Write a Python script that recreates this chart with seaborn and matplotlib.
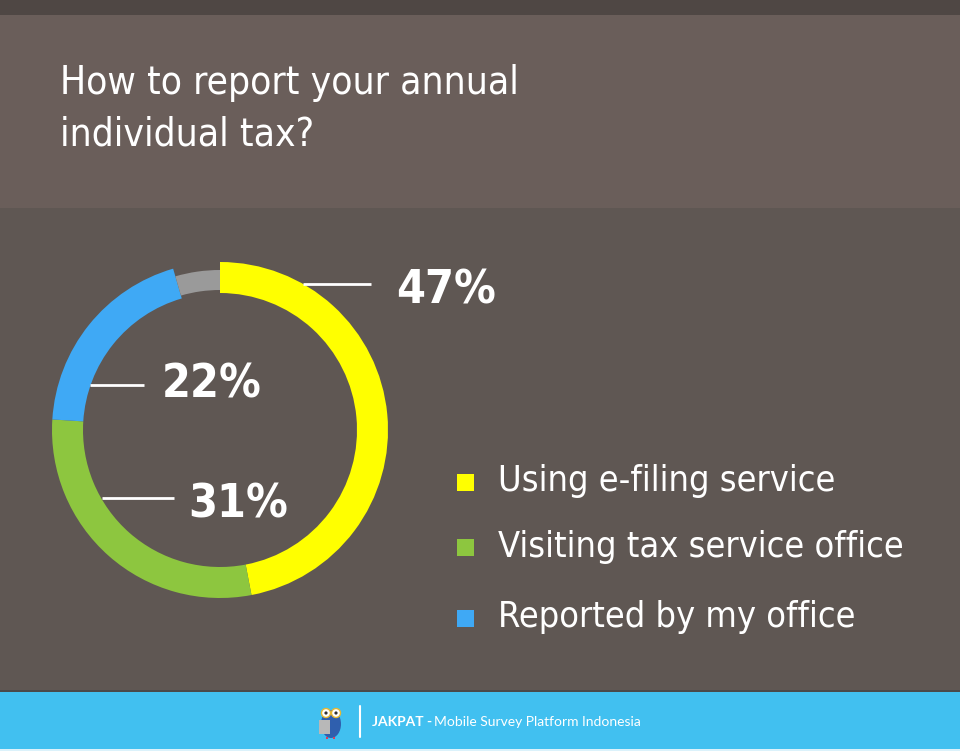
import matplotlib
matplotlib.use('Agg')
import matplotlib.pyplot as plt
import seaborn as sns
from matplotlib import font_manager as fm
from matplotlib.font_manager import FontProperties
from matplotlib.patches import Rectangle, Ellipse, Circle

# ---- data ----------------------------------------------------------------
categories = ['Using e-filing service', 'Visiting tax service office', 'Reported by my office']
label_values = [47, 31, 22]
# shares as drawn on the ring (clockwise from 12 o'clock); last one is the grey remainder
arc_shares = [47, 29, 19.5, 4.5]
ring_colors = ['#ffff00', '#8dc63f', '#3fa9f5', '#9a9a9a']
title_lines = ['How to report your annual', 'individual tax?']
footer_brand = 'JAKPAT -'
footer_text = 'Mobile Survey Platform Indonesia'

sns.set_style('white')
plt.rcParams['font.family'] = ['Roboto', 'DejaVu Sans']


def pick_font(bold=False, light=False):
    """Prefer an upright narrow/condensed face if one is installed, else Roboto."""
    narrow = [f for f in fm.fontManager.ttflist
              if f.style == 'normal' and ('Narrow' in f.name or 'Condensed' in f.name
                                          or f.stretch in ('condensed', 'semi-condensed',
                                                           'extra-condensed'))]
    for f in narrow:
        w = f.weight if isinstance(f.weight, int) else (700 if 'bold' in str(f.weight) else 400)
        if bold and w >= 600:
            return FontProperties(fname=f.fname)
        if not bold and w < 600:
            return FontProperties(fname=f.fname)
    if bold:
        return FontProperties(family=['Roboto', 'DejaVu Sans'], weight='bold')
    if light:
        return FontProperties(family=['Roboto', 'DejaVu Sans'], weight='light')
    return FontProperties(family=['Roboto', 'DejaVu Sans'])


W, H = 960, 751
fig = plt.figure(figsize=(9.6, 7.51), dpi=100)
ax = fig.add_axes([0, 0, 1, 1])

# ---- background bands ------------------------------------------------------
ax.axhspan(0, 15, color='#4f4744', zorder=0, lw=0)
ax.axhspan(15, 208, color='#6a5e5a', zorder=0, lw=0)
ax.axhspan(208, 690, color='#5f5753', zorder=0, lw=0)
ax.axhspan(690, 692, color='#4a4a4a', zorder=0, lw=0)
ax.axhspan(692, 749, color='#41c0f0', zorder=0, lw=0)
ax.axhspan(749, 751, color='#dcf2fb', zorder=0, lw=0)

# ---- donut -----------------------------------------------------------------
palette = sns.color_palette(ring_colors)
cx, cy, r_out, ring_w = 220, 430, 168, 31
# y axis is inverted below, so startangle=270 + counterclock runs clockwise from the top
wedges, _ = ax.pie(arc_shares, colors=palette, startangle=270, counterclock=True,
                   center=(cx, cy), radius=r_out,
                   wedgeprops=dict(width=ring_w, linewidth=0))
wedges[-1].set_radius(160)
wedges[-1].set_width(20)

ax.set_xlim(0, W)
ax.set_ylim(H, 0)
ax.set_axis_off()

f_bold = pick_font(bold=True)
f_reg = pick_font()
f_light = pick_font(light=True)

# ---- value labels with leader lines ----------------------------------------
label_pos = [(396, 304), (188, 518), (162, 397)]
leader = [(303, 371, 284), (102, 174, 498), (90, 144, 385)]
pct_texts = []
for v, (tx, ty), (x0, x1, ly) in zip(label_values, label_pos, leader):
    ax.plot([x0, x1], [ly, ly], color='white', lw=2, solid_capstyle='butt', zorder=3)
    pct_texts.append(ax.text(tx, ty, f'{v}%', fontproperties=f_bold, fontsize=40,
                             color='white', ha='left', va='baseline', zorder=4))

# ---- legend ----------------------------------------------------------------
sq_y = [482, 547, 618]
txt_y = [491, 557, 627]
leg_texts = []
for name, col, sy, ty in zip(categories, palette[:3], sq_y, txt_y):
    ax.add_patch(Rectangle((457, sy - 8.5), 17, 17, color=col, lw=0, zorder=3))
    leg_texts.append(ax.text(498, ty, name, fontproperties=f_reg, fontsize=28,
                             color='white', ha='left', va='baseline'))

# ---- title -----------------------------------------------------------------
title_texts = []
for line, by in zip(title_lines, [94, 146]):
    title_texts.append(ax.text(60, by, line, fontproperties=f_light, fontsize=32,
                               color='white', ha='left', va='baseline'))

# size each text group so its width matches the reference
renderer = fig.canvas.get_renderer()


def fit(group, ref_txt, target_w):
    w = ref_txt.get_window_extent(renderer).width
    for t in group:
        t.set_fontsize(t.get_fontsize() * target_w / w)


fit(pct_texts, pct_texts[0], 100)
fit(leg_texts, leg_texts[1], 406)
fit(title_texts, title_texts[0], 460)

# ---- footer ----------------------------------------------------------------
ax.add_patch(Ellipse((331, 724), 20, 28, color='#2f5fae', lw=0, zorder=3))
ax.add_patch(Rectangle((319, 720), 11, 14, color='#b8b8b8', lw=0, zorder=4))
for ex in (326, 336):
    ax.add_patch(Circle((ex, 713), 4.5, facecolor='white', edgecolor='#e8b830', lw=1, zorder=4))
    ax.add_patch(Circle((ex, 713), 1.6, color='#333333', lw=0, zorder=5))
ax.add_patch(Rectangle((326, 737), 2, 2, color='#e03a5a', lw=0, zorder=4))
ax.add_patch(Rectangle((333, 737), 2, 2, color='#e03a5a', lw=0, zorder=4))
ax.plot([360, 360], [706, 737], color='white', lw=1.5, zorder=3)
ax.text(372, 726, footer_brand, family=['Lato', 'DejaVu Sans'], fontweight='bold',
        fontsize=10, color='white', ha='left', va='baseline')
ax.text(434, 726, footer_text, family=['Lato', 'DejaVu Sans'],
        fontsize=10, color='white', ha='left', va='baseline')

fig.savefig('out.png', dpi=100)
